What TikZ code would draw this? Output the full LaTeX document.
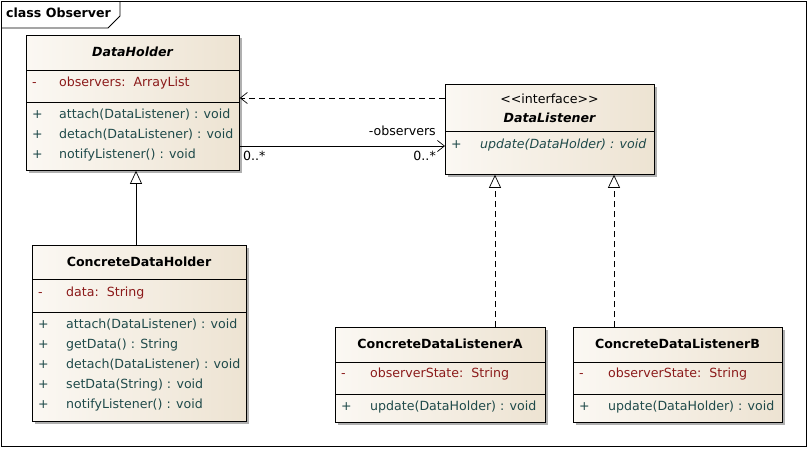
\documentclass[tikz,border=0pt]{standalone}
\usepackage{fontspec}
\setmainfont{DejaVu Sans}
\usetikzlibrary{arrows.meta,shadows}
\definecolor{boxl}{HTML}{FBF8F3}
\definecolor{boxr}{HTML}{EDE3D2}
\definecolor{attrc}{HTML}{8B1A1A}
\definecolor{methc}{HTML}{1F4A4A}
\definecolor{shadowc}{HTML}{B0B0B0}
\newcommand{\fsz}{\fontsize{12.6}{14}\selectfont}
\tikzset{
  cls/.style={draw=black, line width=0.8pt, left color=boxl, right color=boxr, anchor=north west, inner sep=0pt,
    drop shadow={shadow xshift=3pt, shadow yshift=-3pt, fill=shadowc, opacity=1}},
  txt/.style={anchor=west, inner sep=0pt, font=\fsz, text height=9.5pt, text depth=2.5pt},
  ttl/.style={inner sep=0pt, font=\fsz\bfseries, text height=9.5pt, text depth=2.5pt},
  attr/.style={txt, text=attrc},
  meth/.style={txt, text=methc},
  divline/.style={line width=0.8pt},
  gen/.style={line width=0.7pt, -{Triangle[open, length=13pt, width=12pt]}},
  real/.style={gen, dashed, dash pattern=on 6pt off 4pt},
  dep/.style={line width=0.7pt, dashed, dash pattern=on 6pt off 4pt, -{Straight Barb[length=7pt, width=11pt]}},
  assoc/.style={line width=0.7pt, -{Straight Barb[length=7pt, width=11pt]}},
  lbl/.style={inner sep=0pt, font=\fsz, text height=9.5pt, text depth=2.5pt}
}
\begin{document}
\begin{tikzpicture}[x=1pt, y=-1pt]
\useasboundingbox (0,0) rectangle (808,448);
% frame
\draw[line width=0.8pt] (1,1) rectangle (806,446);
\draw[line width=0.8pt] (1,28) -- (108,28) -- (120,16) -- (120,1);
\node[anchor=west, inner sep=0pt, font=\fsz\bfseries, text height=9.5pt, text depth=2.5pt] (frametitle) at (6,14) {class Observer};

% DataHolder
\node[cls, minimum width=213pt, minimum height=135pt] (dh) at (26,35) {};
\draw[divline] (26,70) -- (239,70);
\draw[divline] (26,102) -- (239,102);
\node[ttl, font=\fsz\bfseries\itshape] (dht) at (132.5,53) {DataHolder};
\node[attr] (dha1) at (32,83) {-};
\node[attr] (dha2) at (59,83) {observers:~~ArrayList};
\node[meth] (dhm1p) at (32,115) {+};
\node[meth] (dhm1) at (59,115) {attach(DataListener) : void};
\node[meth] (dhm2p) at (32,135) {+};
\node[meth] (dhm2) at (59,135) {detach(DataListener) : void};
\node[meth] (dhm3p) at (32,155) {+};
\node[meth] (dhm3) at (59,155) {notifyListener() : void};

% ConcreteDataHolder
\node[cls, minimum width=214pt, minimum height=176pt] (cdh) at (32,245) {};
\draw[divline] (32,279) -- (246,279);
\draw[divline] (32,312) -- (246,312);
\node[ttl] (cdht) at (139,263) {ConcreteDataHolder};
\node[attr] (cdha1) at (38,293) {-};
\node[attr] (cdha2) at (66,293) {data:~~String};
\node[meth] (cdhm1p) at (38,325) {+};
\node[meth] (cdhm1) at (66,325) {attach(DataListener) : void};
\node[meth] (cdhm2p) at (38,345) {+};
\node[meth] (cdhm2) at (66,345) {getData() : String};
\node[meth] (cdhm3p) at (38,365) {+};
\node[meth] (cdhm3) at (66,365) {detach(DataListener) : void};
\node[meth] (cdhm4p) at (38,385) {+};
\node[meth] (cdhm4) at (66,385) {setData(String) : void};
\node[meth] (cdhm5p) at (38,405) {+};
\node[meth] (cdhm5) at (66,405) {notifyListener() : void};

% DataListener
\node[cls, minimum width=209pt, minimum height=90pt] (dl) at (445,84) {};
\draw[divline] (445,131) -- (654,131);
\node[lbl] (dls) at (549.5,100) {{<}{<}interface{>}{>}};
\node[ttl, font=\fsz\bfseries\itshape] (dlt) at (549.5,119) {DataListener};
\node[meth] (dlm1p) at (451,145) {+};
\node[meth, font=\fsz\itshape] (dlm1) at (480,145) {update(DataHolder) : void};

% ConcreteDataListenerA
\node[cls, minimum width=210pt, minimum height=95pt] (la) at (335,327) {};
\draw[divline] (335,362) -- (545,362);
\draw[divline] (335,394) -- (545,394);
\node[ttl] (lat) at (440,345) {ConcreteDataListenerA};
\node[attr] (laa1p) at (341,374) {-};
\node[attr] (laa1) at (370,374) {observerState:~~String};
\node[meth] (lam1p) at (341,407) {+};
\node[meth] (lam1) at (370,407) {update(DataHolder) : void};

% ConcreteDataListenerB
\node[cls, minimum width=209pt, minimum height=95pt] (lb) at (573,327) {};
\draw[divline] (573,362) -- (782,362);
\draw[divline] (573,394) -- (782,394);
\node[ttl] (lbt) at (677.5,345) {ConcreteDataListenerB};
\node[attr] (lba1p) at (579,374) {-};
\node[attr] (lba1) at (608,374) {observerState:~~String};
\node[meth] (lbm1p) at (579,407) {+};
\node[meth] (lbm1) at (608,407) {update(DataHolder) : void};

% connectors
\coordinate (g) at (136,0);
\coordinate (ra) at (495,0);
\coordinate (rb) at (614,0);
\coordinate (yd) at (0,98);
\coordinate (ya) at (0,146);
\draw[gen] (g |- cdh.north) -- (g |- dh.south);
\draw[real] (ra |- la.north) -- (ra |- dl.south);
\draw[real] (rb |- lb.north) -- (rb |- dl.south);
\draw[dep] (dl.west |- yd) -- (dh.east |- yd);
\draw[assoc] (dh.east |- ya) -- (dl.west |- ya);
\node[lbl, anchor=south east] (rolelbl) at (436,138) {-observers};
\node[lbl, anchor=north west] (m1) at (243,151) {0..*};
\node[lbl, anchor=north east] (m2) at (436,151) {0..*};
\end{tikzpicture}
\end{document}
